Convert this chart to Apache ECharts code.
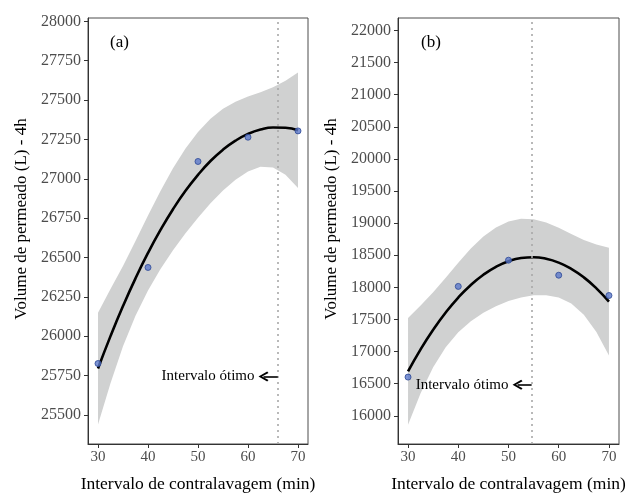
<!DOCTYPE html>
<html>
<head>
<meta charset="utf-8">
<script src="https://cdn.jsdelivr.net/npm/echarts@6/dist/echarts.min.js"></script>
<style>
  html, body { margin: 0; padding: 0; background: #fff; }
  #chart { width: 631px; height: 498px; }
</style>
</head>
<body>
<div id="chart"></div>
<script>
// ---- data ----
var xTicks = [30, 40, 50, 60, 70];
var obsX = [30, 40, 50, 60, 70];

// (a) observed volumes and fitted curve with its confidence band
var obsA = [25827, 26437, 27110, 27264, 27304];
var curveX = [30, 32.5, 35, 37.5, 40, 42.5, 45, 47.5, 50, 52.5, 55, 57.5, 60, 62.5, 65, 67.5, 70];
var fitA   = [25795, 26001, 26192, 26368, 26529, 26675, 26807, 26924, 27025, 27113, 27185, 27242, 27285, 27313, 27326, 27324, 27308];
var upperA = [26150, 26300, 26447, 26605, 26767, 26923, 27067, 27193, 27297, 27382, 27445, 27490, 27523, 27550, 27581, 27623, 27675];
var lowerA = [25440, 25702, 25937, 26131, 26291, 26427, 26547, 26655, 26753, 26844, 26925, 26994, 27047, 27076, 27071, 27025, 26941];
var yTicksA = [25500, 25750, 26000, 26250, 26500, 26750, 27000, 27250, 27500, 27750, 28000];

// (b)
var obsB = [16603, 18015, 18423, 18189, 17873];
var fitB   = [16692, 17035, 17340, 17609, 17842, 18038, 18197, 18320, 18406, 18456, 18469, 18445, 18385, 18288, 18155, 17985, 17778];
var upperB = [17522, 17717, 17923, 18150, 18384, 18604, 18790, 18933, 19026, 19069, 19062, 19011, 18927, 18829, 18738, 18667, 18616];
var lowerB = [15862, 16353, 16757, 17068, 17300, 17472, 17604, 17707, 17786, 17843, 17876, 17879, 17843, 17747, 17572, 17303, 16940];
var yTicksB = [16000, 16500, 17000, 17500, 18000, 18500, 19000, 19500, 20000, 20500, 21000, 21500, 22000];

// optimum interval (vertical dotted line) and annotation arrow
var optimum = [65.95, 54.6];
var arrowY = [25745, 16485];
var arrowTip = [63.1, 51.8];
var annotText = 'Intervalo ótimo';
var panelTags = ['(a)', '(b)'];
var xTitle = 'Intervalo de contralavagem (min)';
var yTitle = 'Volume de permeado (L) - 4h';

var FONT = '"Liberation Serif", "DejaVu Serif", serif';
var chevron = 'path://M5,0 L10,8.5 L8.5,9.8 L5,3.4 L1.5,9.8 L0,8.5 Z';

function pairs(xs, ys) {
    return xs.map(function (x, i) { return [x, ys[i]]; });
}

function plain(v) { return String(v); }

function xAxisOf(gi) {
    return {
        type: 'value', gridIndex: gi, min: 28, max: 72,
        name: xTitle, nameLocation: 'middle', nameGap: 31,
        nameTextStyle: { fontFamily: FONT, fontSize: 17.5, color: '#000' },
        axisLine: { show: true, onZero: false, lineStyle: { color: '#333', width: 1 } },
        axisTick: { show: true, length: 4, customValues: xTicks, lineStyle: { color: '#333' } },
        axisLabel: { customValues: xTicks, formatter: plain, fontFamily: FONT, fontSize: 15, color: '#4d4d4d', margin: 6 },
        splitLine: { show: false }
    };
}

function yAxisOf(gi, min, max, ticks) {
    return {
        type: 'value', gridIndex: gi, min: min, max: max,
        name: yTitle, nameLocation: 'middle', nameGap: 58,
        nameTextStyle: { fontFamily: FONT, fontSize: 17, color: '#000', padding: [0, 0, 0, 24] },
        axisLine: { show: true, onZero: false, lineStyle: { color: '#333', width: 1 } },
        axisTick: { show: true, length: 4, customValues: ticks, lineStyle: { color: '#333' } },
        axisLabel: { customValues: ticks, formatter: plain, fontFamily: FONT, fontSize: 16, color: '#4d4d4d', margin: 7 },
        splitLine: { show: false }
    };
}

function bandSeries(gi, upper, lower) {
    return {
        type: 'custom', xAxisIndex: gi, yAxisIndex: gi, silent: true, z: 1,
        data: [[curveX[0], lower[0]]],
        renderItem: function (params, api) {
            var pts = [];
            for (var i = 0; i < curveX.length; i++) pts.push(api.coord([curveX[i], upper[i]]));
            for (var j = curveX.length - 1; j >= 0; j--) pts.push(api.coord([curveX[j], lower[j]]));
            return { type: 'polygon', shape: { points: pts }, style: { fill: '#d0d1d1' } };
        }
    };
}

function panelSeries(gi, fit, upper, lower, obs) {
    return [
        bandSeries(gi, upper, lower),
        {
            type: 'line', xAxisIndex: gi, yAxisIndex: gi, z: 3,
            data: pairs(curveX, fit), smooth: true, showSymbol: false, silent: true,
            lineStyle: { color: '#000', width: 2.6 },
            markLine: {
                silent: true, symbol: 'none', animation: false,
                label: { show: false },
                lineStyle: { color: '#a8a8a8', type: [2, 4], width: 1.6 },
                data: [{ xAxis: optimum[gi] }]
            }
        },
        {
            type: 'scatter', xAxisIndex: gi, yAxisIndex: gi, z: 4,
            data: pairs(obsX, obs), symbolSize: 6, silent: true,
            itemStyle: { color: '#5b78c9', borderColor: '#2c4795', borderWidth: 1 },
            markLine: {
                silent: true, animation: false,
                label: { show: false },
                lineStyle: { color: '#000', type: 'solid', width: 1.6 },
                symbol: ['none', chevron], symbolSize: [10, 10],
                data: [[{ coord: [optimum[gi], arrowY[gi]] }, { coord: [arrowTip[gi], arrowY[gi]] }]]
            },
            markPoint: {
                silent: true, symbol: 'circle', symbolSize: 0,
                label: {
                    show: true, position: 'left', distance: 9, formatter: annotText,
                    fontFamily: FONT, fontSize: 15, color: '#000'
                },
                data: [{ coord: [arrowTip[gi], arrowY[gi]] }]
            }
        }
    ];
}

var chart = echarts.init(document.getElementById('chart'));
chart.setOption({
    animation: false,
    backgroundColor: '#fff',
    title: [
        { text: panelTags[0], left: 105, top: 29, textStyle: { fontFamily: FONT, fontSize: 17, fontWeight: 'normal', color: '#000' } },
        { text: panelTags[1], left: 416, top: 29, textStyle: { fontFamily: FONT, fontSize: 17, fontWeight: 'normal', color: '#000' } }
    ],
    grid: [
        { left: 88, top: 18, width: 220, height: 433, show: true, borderColor: '#4d4d4d', borderWidth: 1, backgroundColor: 'transparent' },
        { left: 398, top: 18, width: 221, height: 433, show: true, borderColor: '#4d4d4d', borderWidth: 1, backgroundColor: 'transparent' }
    ],
    xAxis: [xAxisOf(0), xAxisOf(1)],
    yAxis: [yAxisOf(0, 25316, 28021, yTicksA), yAxisOf(1, 15561, 22194, yTicksB)],
    series: panelSeries(0, fitA, upperA, lowerA, obsA).concat(panelSeries(1, fitB, upperB, lowerB, obsB))
});
</script>
</body>
</html>
